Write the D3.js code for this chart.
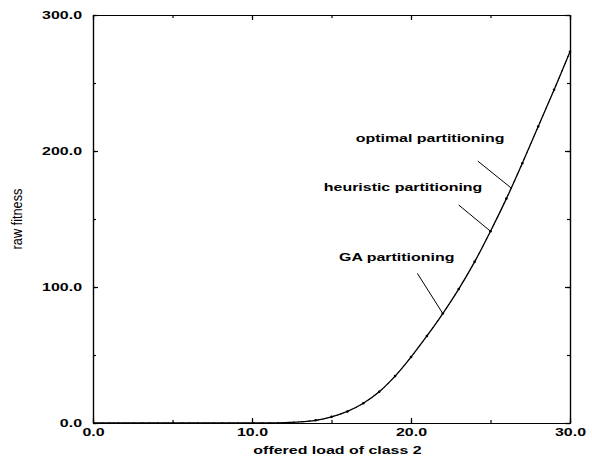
<!DOCTYPE html>
<meta charset="utf-8">
<script src="https://d3js.org/d3.v7.min.js"></script>
<style>
  body { margin: 0; background: #fff; }
  text { font-family: "Liberation Sans", Arial, sans-serif; }
</style>
<div id="chart"></div>
<script>

// data (the three curves lie on top of each other)
var load = [0, 2, 4, 6, 8, 10, 11, 12, 13, 14, 15, 16, 17, 18, 19, 20, 21, 22, 23, 24, 25, 26, 27, 28, 29, 30];
var optimal   = [0, 0, 0, 0, 0, 0, 0.1, 0.3, 0.8, 2, 4.5, 8.5, 14.5, 23, 34.5, 48.5, 64, 80.5, 98.5, 118.5, 141, 165, 191, 218, 245, 273];
var heuristic = [0, 0, 0, 0, 0, 0, 0.1, 0.3, 0.8, 2, 4.5, 8.5, 14.5, 23, 34.5, 48.5, 64, 80.5, 98.5, 118.5, 141, 165, 191, 218, 245, 273];
var gaPart    = [0, 0, 0, 0, 0, 0, 0.1, 0.3, 0.8, 2, 4.5, 8.5, 14.5, 23, 34.5, 48.5, 64, 80.5, 98.5, 118.5, 141, 165, 191, 218, 245, 273];

var xTicks = [0, 10, 20, 30];
var yTicks = [0, 100, 200, 300];

// labels: text position, start of leader line, load where the leader hits the curve
var labels = ["optimal partitioning", "heuristic partitioning", "GA partitioning"];
var labelX = [21.2, 19.5, 19.1];
var labelY = [206.6, 170.6, 119];
var leadX  = [24.2, 23.0, 20.4];
var leadY  = [192.6, 160.3, 110];
var tipX   = [26.3, 25.0, 22.0];

var margin = {top: 15, right: 22, bottom: 36, left: 93},
  width = 592 - margin.left - margin.right,
  height = 459 - margin.top - margin.bottom;

var svg = d3.select("#chart")
  .append("svg")
    .attr("width", 592)
    .attr("height", 459)
  .append("g")
    .attr("transform", "translate(" + margin.left + "," + margin.top + ")");

var x = d3.scaleLinear().domain([0, 30]).range([0, width]);
var y = d3.scaleLinear().domain([0, 300]).range([height, 0]);

var fmt = d3.format(".1f");
var stretch = 1.45;

function styleAxis(g) {
  g.selectAll("path, line").attr("stroke", "#000").attr("stroke-width", 1.2);
}

// minor ticks (every 5 / every 50), pointing inside
var minorX = d3.range(0, 31, 5), minorY = d3.range(0, 301, 50);
svg.append("g").attr("transform", "translate(0," + height + ")")
  .call(d3.axisBottom(x).tickValues(minorX).tickFormat("").tickSizeInner(-3).tickSizeOuter(0)).call(styleAxis);
svg.append("g")
  .call(d3.axisTop(x).tickValues(minorX).tickFormat("").tickSizeInner(-3).tickSizeOuter(0)).call(styleAxis);
svg.append("g")
  .call(d3.axisLeft(y).tickValues(minorY).tickFormat("").tickSizeInner(-3).tickSizeOuter(0)).call(styleAxis);
svg.append("g").attr("transform", "translate(" + width + ",0)")
  .call(d3.axisRight(y).tickValues(minorY).tickFormat("").tickSizeInner(-3).tickSizeOuter(0)).call(styleAxis);

// major ticks with labels
var xAxis = svg.append("g").attr("transform", "translate(0," + height + ")")
  .call(d3.axisBottom(x).tickValues(xTicks).tickFormat(fmt).tickSizeInner(-5).tickSizeOuter(0).tickPadding(5))
  .call(styleAxis);
var yAxis = svg.append("g")
  .call(d3.axisLeft(y).tickValues(yTicks).tickFormat(fmt).tickSizeInner(-5).tickSizeOuter(0).tickPadding(11 / stretch))
  .call(styleAxis);
svg.append("g").attr("transform", "translate(" + width + ",0)")
  .call(d3.axisRight(y).tickValues(yTicks).tickFormat("").tickSizeInner(-5).tickSizeOuter(0)).call(styleAxis);
svg.append("g")
  .call(d3.axisTop(x).tickValues(xTicks).tickFormat("").tickSizeInner(-5).tickSizeOuter(0)).call(styleAxis);

[xAxis, yAxis].forEach(function(a) {
  a.selectAll("text")
    .attr("font-family", "'Liberation Sans', Arial, sans-serif")
    .attr("font-size", 11)
    .attr("font-weight", "bold")
    .attr("fill", "#000")
    .attr("transform", "scale(" + stretch + ",1)");
});

// axis titles
svg.append("text")
  .attr("transform", "translate(" + (width / 2 + 6) + "," + (height + 31) + ") scale(" + stretch + ",1)")
  .attr("text-anchor", "middle")
  .attr("font-size", 11)
  .attr("font-weight", "bold")
  .text("offered load of class 2");

svg.append("text")
  .attr("transform", "translate(" + (-71) + "," + y(150) + ") rotate(-90) scale(0.88,1)")
  .attr("text-anchor", "middle")
  .attr("font-size", 14.5)
  .text("raw fitness");

// curves
var series = [optimal, heuristic, gaPart];
var line = d3.line()
  .x(function(d, i) { return x(load[i]); })
  .y(function(d) { return y(d); })
  .curve(d3.curveCatmullRom);

svg.selectAll(".curve")
  .data(series)
  .enter()
  .append("path")
    .attr("class", "curve")
    .attr("fill", "none")
    .attr("stroke", "#000")
    .attr("stroke-width", function(d, i) { return i === 0 ? 1.3 : 0.8; })
    .attr("stroke-dasharray", function(d, i) { return i === 0 ? null : (i === 1 ? "2,6" : "1,4"); })
    .attr("d", line);

// small markers of the heuristic and GA runs
svg.selectAll(".mark")
  .data(load.filter(function(d) { return d >= 14; }))
  .enter()
  .append("circle")
    .attr("class", "mark")
    .attr("cx", function(d) { return x(d); })
    .attr("cy", function(d) { return y(heuristic[load.indexOf(d)]); })
    .attr("r", 1.3)
    .attr("fill", "#000");

// labels with leader lines
function curveAt(v) {
  var i = d3.bisectLeft(load, v);
  if (i <= 0) return optimal[0];
  var t = (v - load[i - 1]) / (load[i] - load[i - 1]);
  return optimal[i - 1] + t * (optimal[i] - optimal[i - 1]);
}

labels.forEach(function(txt, i) {
  svg.append("text")
    .attr("transform", "translate(" + x(labelX[i]) + "," + y(labelY[i]) + ") scale(" + stretch + ",1)")
    .attr("text-anchor", "middle")
    .attr("font-size", 11)
    .attr("font-weight", "bold")
    .text(txt);
  svg.append("line")
    .attr("x1", x(leadX[i]))
    .attr("y1", y(leadY[i]))
    .attr("x2", x(tipX[i]))
    .attr("y2", y(curveAt(tipX[i])))
    .attr("stroke", "#000")
    .attr("stroke-width", 1);
});

</script>
